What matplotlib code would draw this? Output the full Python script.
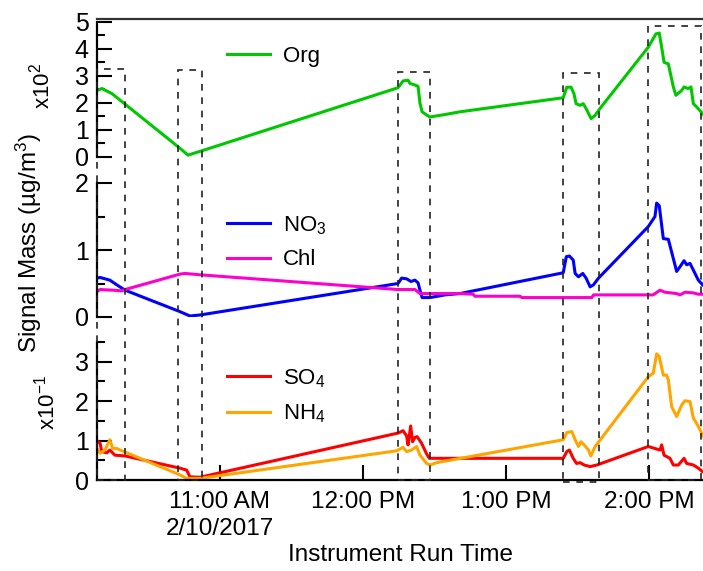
import matplotlib
matplotlib.use("Agg")
import matplotlib.pyplot as plt
from matplotlib.patches import Rectangle
from matplotlib.transforms import blended_transform_factory
from matplotlib.ticker import MultipleLocator

plt.rcParams['font.family'] = ['Liberation Sans', 'DejaVu Sans']
plt.rcParams['mathtext.fontset'] = 'custom'
plt.rcParams['mathtext.rm'] = 'Liberation Sans'
plt.rcParams['mathtext.it'] = 'Liberation Sans:italic'
plt.rcParams['mathtext.default'] = 'regular'

# time in minutes after 10:00 AM, 2/10/2017
org_t = [8.4, 10.5, 14.7, 42.4, 46.6, 52.4, 134.7, 136.8, 138.9, 139.7, 141.8, 143.1, 143.9, 144.8,
         146.9, 148.1, 154.4, 160.7, 204.0, 205.5, 207.3, 208.5, 209.4, 211.1, 212.4, 213.6, 215.7,
         217.4, 219.4, 239.7, 242.9, 244.3, 245.3, 246.3, 248.1, 250.2, 251.3, 253.7, 254.7, 256.4,
         257.6, 258.6, 260.0, 262.5, 263.5]
org_v = [2.46, 2.53, 2.34, 0.38, 0.07, 0.23, 2.56, 2.81, 2.84, 2.72, 2.66, 2.61, 1.99, 1.67,
         1.54, 1.48, 1.57, 1.67, 2.19, 2.58, 2.58, 2.34, 1.97, 1.91, 1.97, 1.79, 1.42,
         1.54, 1.79, 4.06, 4.55, 4.58, 4.06, 3.50, 3.44, 2.59, 2.28, 2.46, 2.59, 2.53,
         2.59, 1.97, 1.85, 1.60, 1.50]

no3_t = [8.4, 9.7, 13.8, 16.7, 20.2, 43.2, 47.4, 51.6, 134.7, 136.2, 138.3, 140.1, 141.8, 143.1,
         143.9, 144.8, 148.1, 154.4, 160.7, 204.0, 205.3, 206.6, 208.2, 209.0, 210.4, 212.2, 213.6,
         215.3, 216.7, 218.8, 239.7, 242.5, 243.2, 244.3, 246.0, 248.1, 251.6, 253.0, 254.7, 255.8,
         257.2, 258.6, 260.7, 262.5, 263.5]
no3_v = [0.58, 0.59, 0.55, 0.48, 0.40, 0.08, 0.015, 0.03, 0.50, 0.58, 0.57, 0.53, 0.55, 0.51,
         0.40, 0.29, 0.29, 0.33, 0.35, 0.66, 0.90, 0.91, 0.85, 0.65, 0.60, 0.65, 0.58,
         0.45, 0.48, 0.58, 1.35, 1.50, 1.70, 1.66, 1.17, 1.16, 0.68, 0.75, 0.84, 0.78,
         0.80, 0.70, 0.55, 0.48, 0.45]

chl_t = [8.4, 9.7, 15.2, 18.8, 20.2, 43.2, 45.3, 51.6, 134.7, 141.8, 143.9, 160.7, 166.2, 167.0,
         185.9, 186.6, 216.0, 216.7, 241.7, 244.6, 246.7, 251.6, 253.0, 255.1, 258.6, 260.7, 263.5]
chl_v = [0.38, 0.41, 0.40, 0.39, 0.41, 0.64, 0.65, 0.63, 0.41, 0.41, 0.35, 0.35, 0.34, 0.31,
         0.31, 0.29, 0.29, 0.33, 0.33, 0.40, 0.37, 0.35, 0.33, 0.37, 0.36, 0.34, 0.34]

so4_t = [8.4, 9.7, 10.4, 12.5, 13.8, 15.9, 20.2, 43.2, 46.0, 47.4, 51.6, 134.7, 136.8, 138.3,
         138.9, 140.0, 140.8, 141.8, 142.7, 143.6, 144.6, 146.7, 147.8, 204.0, 205.5, 206.6, 208.2,
         209.6, 211.1, 212.8, 215.3, 218.1, 239.7, 244.6, 245.3, 246.3, 248.8, 250.2, 252.3, 254.7,
         255.8, 258.6, 260.7, 262.5, 263.5]
so4_v = [1.00, 0.93, 0.72, 0.69, 0.76, 0.63, 0.61, 0.30, 0.25, 0.08, 0.07, 1.19, 1.25, 1.12,
         0.89, 1.37, 0.97, 1.08, 1.10, 1.02, 0.93, 0.66, 0.55, 0.55, 0.72, 0.76, 0.55,
         0.42, 0.44, 0.38, 0.34, 0.38, 0.85, 0.76, 0.89, 0.63, 0.55, 0.38, 0.38, 0.55,
         0.42, 0.38, 0.30, 0.21, 0.18]

nh4_t = [8.4, 9.7, 11.7, 13.8, 15.0, 16.7, 18.1, 43.2, 46.0, 51.6, 134.1, 136.8, 138.3, 140.4,
         142.5, 143.9, 146.7, 148.1, 150.9, 204.0, 205.5, 207.6, 209.0, 210.4, 211.4, 212.8, 214.6,
         215.6, 217.4, 239.7, 241.8, 243.2, 244.3, 246.0, 247.4, 248.1, 249.5, 251.6, 253.7, 255.1,
         257.2, 258.6, 260.3, 262.5, 263.5]
nh4_v = [0.80, 0.68, 0.76, 1.02, 0.80, 0.80, 0.76, 0.13, 0.04, 0.04, 0.74, 0.83, 0.72, 0.76,
         0.85, 0.63, 0.42, 0.38, 0.44, 1.02, 1.20, 1.23, 1.02, 0.85, 0.97, 0.89, 0.76,
         0.61, 0.85, 2.62, 2.71, 3.20, 3.13, 2.66, 2.66, 2.54, 1.86, 1.61, 1.90, 2.01,
         1.99, 1.57, 1.40, 1.14, 1.05]

# sampling windows (minutes after 10:00); top in Org units, bottom in SO4/NH4 units
box_start = [8.4, 42.5, 134.8, 204.0, 239.7]
box_end = [20.2, 52.6, 148.1, 219.1, 261.7]
box_top = [3.27, 3.2, 3.13, 3.09, 4.85]
box_bottom = [0, 0, 0, -0.06, 0]

tick_pos = [60, 120, 180, 240]
tick_lab = ['11:00 AM\n2/10/2017', '12:00 PM', '1:00 PM', '2:00 PM']

W, H = 703, 571
fig = plt.figure(figsize=(W / 100, H / 100), dpi=100)
ax1 = fig.add_axes([97 / W, 1 - 157 / H, 606 / W, 138 / H])
ax2 = fig.add_axes([97 / W, 1 - 317 / H, 606 / W, 134 / H])
ax3 = fig.add_axes([97 / W, 1 - 480 / H, 606 / W, 138 / H])

l_org, = ax1.plot(org_t, org_v, color='#00C800', lw=2.2, label='Org')
l_no3, = ax2.plot(no3_t, no3_v, color='#0000FF', lw=2.2, label='NO$_3$')
l_chl, = ax2.plot(chl_t, chl_v, color='#FF00CC', lw=2.2, label='Chl')
l_so4, = ax3.plot(so4_t, so4_v, color='#FF0000', lw=2.2, label='SO$_4$')
l_nh4, = ax3.plot(nh4_t, nh4_v, color='#FFA500', lw=2.2, label='NH$_4$')

ax1.set_ylim(0, 5.1)
ax2.set_ylim(0, 2)
ax3.set_ylim(0, 3.5)
for ax in (ax1, ax2, ax3):
    ax.set_xlim(8.4, 262.65)
    ax.yaxis.set_major_locator(MultipleLocator(1))
    ax.yaxis.set_minor_locator(MultipleLocator(0.5))
    ax.spines['right'].set_visible(False)
    ax.spines['left'].set_linewidth(1.6)
    ax.tick_params(axis='y', which='major', direction='in', length=11, width=1.5,
                   labelsize=18, pad=6)
    ax.tick_params(axis='y', which='minor', direction='in', length=5.5, width=1.5)
    ax.patch.set_alpha(0)
for ax in (ax1, ax2):
    ax.spines['bottom'].set_visible(False)
    ax.set_xticks([])
ax2.spines['top'].set_visible(False)
ax3.spines['top'].set_visible(False)
ax1.spines['top'].set_color('#333333')
ax1.spines['top'].set_linewidth(1.6)
ax1.spines['left'].set_bounds(0, 5)
ax3.spines['bottom'].set_linewidth(1.6)

ax3.set_xticks(tick_pos, tick_lab)
ax3.tick_params(axis='x', direction='in', length=11, width=1.5, labelsize=17.5, pad=8)
for lbl in ax3.get_xticklabels():
    lbl.set_linespacing(1.3)
ax3.set_xlabel('Instrument Run Time', fontsize=17.5, labelpad=3)

fig.text(29 / W, 1 - 243 / H, 'Signal Mass (µg/m$^3$)', rotation=90, ha='center', va='center',
         fontsize=17.5)
fig.text(42 / W, 1 - 86 / H, 'x10$^2$', rotation=90, ha='center', va='center', fontsize=16)
fig.text(47 / W, 1 - 403 / H, 'x10$^{-1}$', rotation=90, ha='center', va='center', fontsize=16)

leg_kw = dict(loc='upper left', bbox_transform=fig.transFigure, frameon=False, borderpad=0,
              borderaxespad=0, handlelength=1.95, handletextpad=0.55, fontsize=16,
              labelspacing=0.58)
ax1.legend(handles=[l_org], bbox_to_anchor=(227 / W, 1 - 46 / H), **leg_kw)
ax2.legend(handles=[l_no3, l_chl], bbox_to_anchor=(227 / W, 1 - 214 / H), **leg_kw)
ax3.legend(handles=[l_so4, l_nh4], bbox_to_anchor=(227 / W, 1 - 367 / H), **leg_kw)

# dashed boxes marking the sampling windows, spanning all three panels
trans = blended_transform_factory(ax1.transData, fig.transFigure)
inv = fig.transFigure.inverted()
for t0, t1, top, bot in zip(box_start, box_end, box_top, box_bottom):
    y_top = inv.transform(ax1.transData.transform((0, top)))[1]
    y_bot = inv.transform(ax3.transData.transform((0, bot)))[1]
    rect = Rectangle((t0, y_bot), t1 - t0, y_top - y_bot, transform=trans, fill=False,
                     ls=(0, (4, 4)), lw=1.2, ec='#222222', clip_on=False, zorder=5)
    fig.add_artist(rect)

fig.savefig('out.png', dpi=100)
